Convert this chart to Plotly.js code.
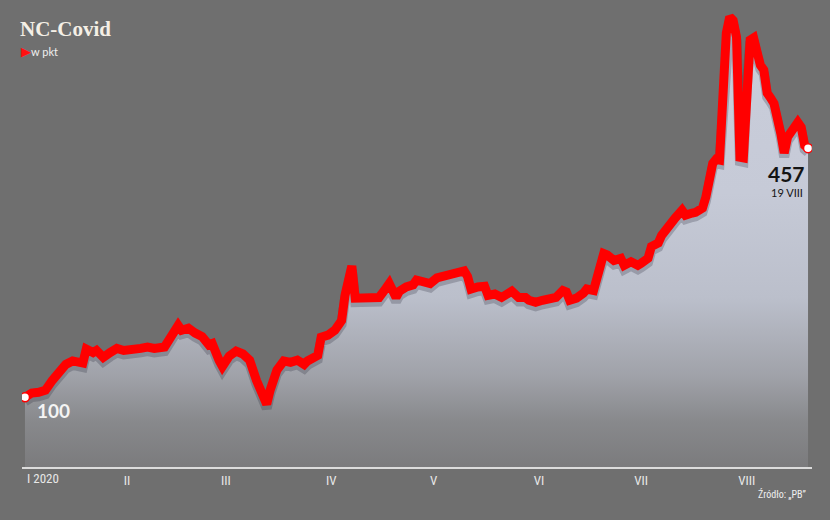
<!DOCTYPE html>
<html>
<head>
<meta charset="utf-8">
<script src="https://cdn.plot.ly/plotly-3.0.1.min.js"></script>
<style>
html,body{margin:0;padding:0;background:#6f6f6f;}
#chart{width:830px;height:520px;}
</style>
</head>
<body>
<div id="chart"></div>
<script>
// Session dates (2020, MM-DD) and index values (points, start = 100)
const days = [
"01-02","01-04","01-06","01-08","01-10","01-12","01-14","01-16","01-18","01-19",
"01-20","01-22","01-23","01-25","01-27","01-29","01-31","02-01","02-03","02-05",
"02-07","02-09","02-12","02-14","02-16","02-17","02-19","02-21","02-23","02-25",
"02-26","02-28","02-29","03-02","03-04","03-06","03-08","03-10","03-12","03-13",
"03-14","03-16","03-18","03-20","03-22","03-24","03-25","03-27","03-28","03-29",
"03-31","04-02","04-04","04-05","04-07","04-08","04-09","04-11","04-13","04-15",
"04-17","04-18","04-20","04-21","04-23","04-25","04-26","04-28","04-30","05-02",
"05-04","05-06","05-08","05-10","05-11","05-12","05-14","05-16","05-17","05-19",
"05-21","05-23","05-24","05-26","05-28","05-29","05-31","06-02","06-04","06-06",
"06-08","06-09","06-10","06-12","06-14","06-15","06-17","06-19","06-20","06-21",
"06-23","06-25","06-26","06-28","06-30","07-01","07-03","07-04","07-06","07-07",
"07-09","07-10","07-11","07-13","07-14","07-16","07-17","07-19","07-20","07-22",
"07-23","07-24","07-25","07-26","07-27","07-28","07-29","07-30","07-31","08-01",
"08-02","08-03","08-04","08-05","08-06","08-07","08-08","08-09","08-11","08-12",
"08-13","08-14","08-15","08-16","08-17","08-18","08-19"];
const values = [
100,106,107,110,124,137,147,152,150,149,
169,164,167,157,164,170,167,167,170,170,
172,170,172,185,203,196,199,192,187,175,
177,153,144,159,166,162,153,124,99,90,
110,139,152,150,153,147,152,156,160,186,
189,196,210,246,288,242,242,242,245,243,
256,263,243,252,258,261,268,265,263,271,
273,275,278,281,273,255,258,259,246,248,
243,251,252,243,243,239,236,239,242,243,
253,251,239,242,249,255,253,296,306,304,
296,299,289,294,289,292,299,316,321,332,
347,349,357,368,361,364,365,371,387,435,
441,440,526,622,645,640,616,444,443,550,
612,615,587,576,569,536,529,521,478,450,
473,478,487,494,487,461,457];
const monthTicks = ["2020-02-01","2020-03-01","2020-04-01","2020-05-01","2020-06-01","2020-07-01","2020-08-01"];
const monthLabels = ["II","III","IV","V","VI","VII","VIII"];
const firstLabel = "I 2020";
const endLabel = "19 VIII";
const sourceText = "Źródło: „PB”";

const x = days.map(d => "2020-" + d);
const n = values.length;
const yMax = 655;
const shadowPx = 4;
const pxPerUnit = 457 / yMax;

const traces = [
  {x: x, y: values, type: "scatter", mode: "lines", fill: "tozeroy",
   line: {width: 0, color: "rgba(0,0,0,0)"},
   fillgradient: {type: "vertical", start: 0, stop: yMax,
     colorscale: [[0, "#7b7b7d"], [0.1, "#88898c"], [0.2, "#a0a2a9"], [0.37, "#bbbfcb"], [0.6, "#c6cad7"], [1, "#cacedb"]]},
   hoverinfo: "skip", xaxis: "x", yaxis: "y"},
  {x: x, y: values, type: "scatter", mode: "lines",
   line: {width: 10, color: "rgba(40,40,55,0.25)"},
   hoverinfo: "skip", xaxis: "x", yaxis: "y2"},
  {x: x, y: values, type: "scatter", mode: "lines",
   line: {width: 9, color: "#ff0000"},
   hoverinfo: "skip", xaxis: "x", yaxis: "y3"},
  {x: [x[0], x[n-1]], y: [values[0], values[n-1]], type: "scatter", mode: "markers",
   marker: {size: 9, color: "#ffffff", line: {color: "#ff0000", width: 1.5}},
   hoverinfo: "skip", xaxis: "x", yaxis: "y3"}
];

const narrow = "Liberation Sans Narrow, Roboto Condensed, Arial Narrow, sans-serif";

const layout = {
  width: 830, height: 520,
  paper_bgcolor: "#6f6f6f", plot_bgcolor: "#6f6f6f",
  margin: {l: 22, r: 18, t: 10, b: 53},
  showlegend: false,
  title: {text: "<b>NC-Covid</b>", xref: "container", yref: "container",
          x: 20/830, xanchor: "left", y: 1 - 29/520, yanchor: "middle",
          font: {family: "Liberation Serif, DejaVu Serif, serif", size: 21, color: "#f4efe6"}},
  xaxis: {type: "date", range: ["2020-01-01 03:00", "2020-08-20 04:00"],
          tickmode: "array", tickvals: monthTicks, ticktext: monthLabels,
          showgrid: false, zeroline: false, showline: true, linecolor: "#dcdcdc", linewidth: 2,
          ticks: "", tickfont: {family: narrow, size: 13, color: "#e8e8e8"}, fixedrange: true},
  yaxis: {range: [0, yMax], visible: false, fixedrange: true},
  yaxis2: {range: [shadowPx / pxPerUnit, yMax + shadowPx / pxPerUnit], overlaying: "y", visible: false, fixedrange: true},
  yaxis3: {range: [0, yMax], overlaying: "y", visible: false, fixedrange: true},
  annotations: [
    {xref: "paper", yref: "paper", x: -3/790, y: (467-51)/457, xanchor: "left", yanchor: "middle",
     showarrow: false, text: '<span style="color:#ff1010;font-size:13px">▶</span>w pkt',
     font: {family: "Lato, sans-serif", size: 11, color: "#f0f0f0"}},
    {xref: "x", yref: "paper", x: x[0], y: (467-478)/457, xanchor: "left", yanchor: "middle",
     showarrow: false, text: firstLabel, font: {family: narrow, size: 13, color: "#e8e8e8"}},
    {xref: "x", yref: "y", x: x[0], y: values[0], xanchor: "left", yanchor: "middle",
     xshift: 10, yshift: -13, showarrow: false, text: String(values[0]),
     font: {family: "Lato, sans-serif", size: 19, color: "#f4f4f4", weight: "bold"}},
    {xref: "x", yref: "y", x: x[n-1], y: values[n-1], xanchor: "center", yanchor: "middle",
     xshift: -22, yshift: -25, showarrow: false, text: "<b>" + values[n-1] + "</b>",
     font: {family: "Lato, sans-serif", size: 21, color: "#141414"}},
    {xref: "x", yref: "y", x: x[n-1], y: values[n-1], xanchor: "center", yanchor: "middle",
     xshift: -21, yshift: -44, showarrow: false, text: endLabel,
     font: {family: "Lato, sans-serif", size: 11, color: "#141414"}},
    {xref: "paper", yref: "paper", x: (808-22)/790, y: (467-494)/457, xanchor: "right", yanchor: "middle",
     showarrow: false, text: sourceText, font: {family: narrow, size: 10, color: "#f0f0f0"}}
  ]
};

Plotly.newPlot("chart", traces, layout, {staticPlot: true, displayModeBar: false});
</script>
</body>
</html>
